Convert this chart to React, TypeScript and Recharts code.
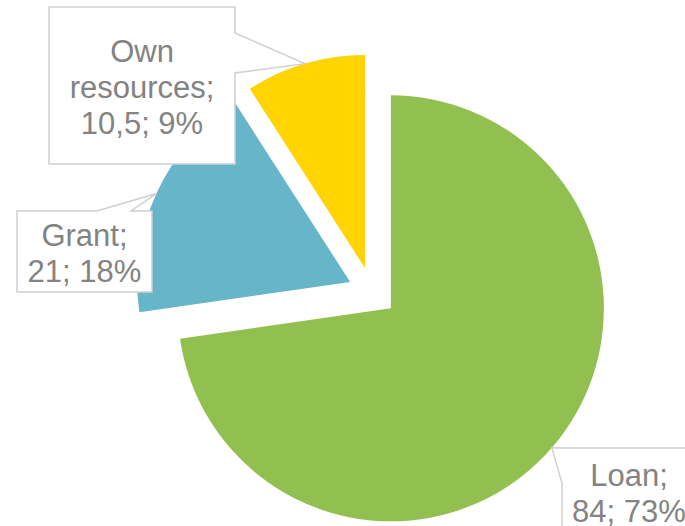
import React from 'react';
import { PieChart, Pie, Cell } from 'recharts';

const categories = ['Loan', 'Grant', 'Own resources'];
const amounts = [84, 21, 10.5];
const colors = ['#92C050', '#66B5C8', '#FFD400'];

type Side = 'top' | 'right' | 'left';
interface Callout {
  x: number;
  y: number;
  w: number;
  h: number;
  side: Side;
  t0: number;
  t1: number;
}

// label boxes, with the edge their pointer leaves from
const callouts: Record<string, Callout> = {
  Loan: { x: 562, y: 448, w: 134, h: 86, side: 'left', t0: 448, t1: 483 },
  Grant: { x: 17, y: 211, w: 135, h: 81, side: 'top', t0: 97, t1: 131 },
  'Own resources': { x: 49, y: 7, w: 186, h: 157, side: 'right', t0: 33, t1: 73 },
};

const CX = 372;
const CY = 292;
const R = 213;
const EXPLODE = [25, 24, 25];
const RADIAN = Math.PI / 180;

const data = categories.map((name, i) => ({ name, value: amounts[i] }));
const total = amounts.reduce((a, b) => a + b, 0);

const midAngles = (() => {
  let cum = 0;
  return amounts.map((v) => {
    const start = 90 - (360 * cum) / total;
    cum += v;
    return start - (180 * v) / total;
  });
})();

const boxPath = (c: Callout, tx: number, ty: number) => {
  const { x, y, w, h, side, t0, t1 } = c;
  const pts: [number, number][] = [[x, y]];
  if (side === 'top') pts.push([t0, y], [tx, ty], [t1, y]);
  pts.push([x + w, y]);
  if (side === 'right') pts.push([x + w, t0], [tx, ty], [x + w, t1]);
  pts.push([x + w, y + h], [x, y + h]);
  if (side === 'left') pts.push([x, t1], [tx, ty], [x, t0]);
  return 'M' + pts.map((p) => p.join(',')).join('L') + 'Z';
};

const makeLabel = (k: number) => (props: any) => {
  if (props.index !== k) return null;
  const { cx, cy, midAngle, outerRadius, name, value, percent } = props;
  const c = callouts[name];
  const tx = cx + outerRadius * Math.cos(-midAngle * RADIAN);
  const ty = cy + outerRadius * Math.sin(-midAngle * RADIAN);
  const words = String(name).split(' ');
  words[words.length - 1] += ';';
  const lines = [...words, `${String(value).replace('.', ',')}; ${Math.round(percent * 100)}%`];
  const lineH = 36;
  const midY = c.y + c.h / 2 + 2;
  return (
    <g key={`lbl-${k}`}>
      <path d={boxPath(c, tx, ty)} fill="#fff" stroke="#d0d0d0" strokeWidth={1.5} />
      <text
        x={c.x + c.w / 2}
        textAnchor="middle"
        fill="#838383"
        fontSize={31}
        fontFamily="'Liberation Sans', Arial, sans-serif"
      >
        {lines.map((ln, i) => (
          <tspan key={i} x={c.x + c.w / 2} y={midY + (i - (lines.length - 1) / 2) * lineH} dominantBaseline="central">
            {ln}
          </tspan>
        ))}
      </text>
    </g>
  );
};

export default function App() {
  return (
    <div style={{ position: 'absolute', left: 0, top: 0 }}>
      <PieChart width={685} height={526} margin={{ top: 0, right: 0, bottom: 0, left: 0 }}>
        {data.map((d, k) => (
          <Pie
            key={d.name}
            data={data}
            dataKey="value"
            nameKey="name"
            cx={CX + EXPLODE[k] * Math.cos(-midAngles[k] * RADIAN)}
            cy={CY + EXPLODE[k] * Math.sin(-midAngles[k] * RADIAN)}
            outerRadius={R}
            startAngle={90}
            endAngle={-270}
            stroke="none"
            label={makeLabel(k)}
            labelLine={false}
            isAnimationActive={false}
          >
            {data.map((_, i) => (
              <Cell key={i} fill={i === k ? colors[i] : 'none'} />
            ))}
          </Pie>
        ))}
      </PieChart>
    </div>
  );
}
